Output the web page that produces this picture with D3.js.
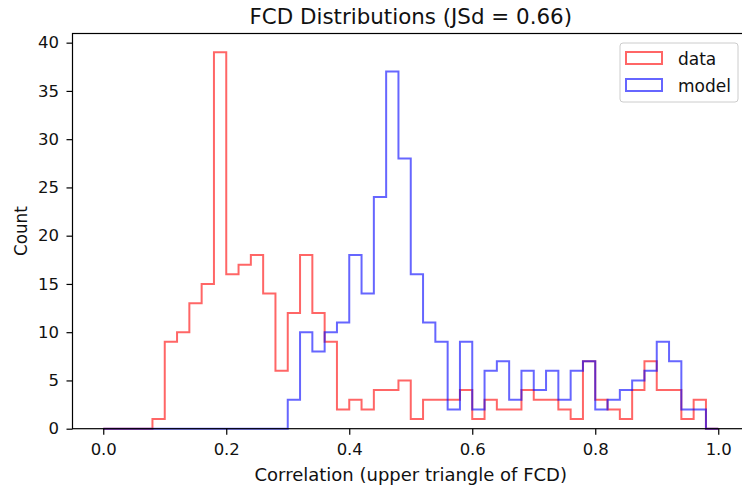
<!DOCTYPE html>
<html><head><meta charset="utf-8">
<script src="https://cdn.jsdelivr.net/npm/d3@7"></script>
<style>body{margin:0;background:#fff}svg{font-family:"DejaVu Sans",sans-serif}</style>
</head><body><svg id="c" width="742" height="490"></svg>
<script>
const binStart = 0.0, binWidth = 0.02;
const dataCounts = [0,0,0,0,1,9,10,13,15,39,16,17,18,14,6,12,18,12,9,2,3,2,4,4,5,1,3,3,3,4,1,3,2,2,4,3,3,2,1,7,3,2,1,4,7,4,4,1,3,0];
const modelCounts = [0,0,0,0,0,0,0,0,0,0,0,0,0,0,0,3,10,8,10,11,18,14,24,37,28,16,11,9,2,9,2,6,7,3,6,4,6,3,6,7,2,3,4,5,6,9,7,2,2,0];
const xTicks = [0.0,0.2,0.4,0.6,0.8,1.0];
const yTicks = [0,5,10,15,20,25,30,35,40];
const seriesNames = ["data","model"];
const seriesColors = ["red","blue"];

const svg = d3.select("#c");
const L = 72.5, R = 749, T = 33.5, B = 428.7;
const x = d3.scaleLinear().domain([-0.05,1.05]).range([L,R]);
const y = d3.scaleLinear().domain([0,40.95]).range([B,T]);

function stepPath(counts){
  const pts = [[binStart,0]];
  counts.forEach((c,i)=>{ const a=binStart+i*binWidth; pts.push([a,c]); pts.push([a+binWidth,c]); });
  pts.push([binStart+counts.length*binWidth,0]);
  return d3.line().x(d=>x(d[0])).y(d=>y(d[1]))(pts);
}
[dataCounts, modelCounts].forEach((cs,k)=>{
  svg.append("path").attr("d",stepPath(cs)).attr("fill","none")
    .attr("stroke",seriesColors[k]).attr("stroke-opacity",0.6).attr("stroke-width",2)
    .attr("stroke-linejoin","miter");
});

// spines
svg.append("rect").attr("x",L).attr("y",T).attr("width",R-L).attr("height",B-T)
  .attr("fill","none").attr("stroke","#000").attr("stroke-width",1.2);

const xa = svg.append("g").attr("transform",`translate(0,${B})`)
  .call(d3.axisBottom(x).tickValues(xTicks).tickFormat(d3.format(".1f")).tickSize(6).tickPadding(8.4));
const ya = svg.append("g").attr("transform",`translate(${L},0)`)
  .call(d3.axisLeft(y).tickValues(yTicks).tickFormat(d3.format("d")).tickSize(6).tickPadding(7.5));
[xa,ya].forEach(a=>{a.select(".domain").remove();a.selectAll("text").attr("font-size",16.5).attr("fill","#111").attr("font-family","DejaVu Sans");a.selectAll("line").attr("stroke","#000").attr("stroke-width",1.2);});

svg.append("text").attr("x",(L+R)/2).attr("y",24).attr("text-anchor","middle").attr("font-size",21.4).attr("fill","#111").text("FCD Distributions (JSd = 0.66)");
svg.append("text").attr("x",(L+R)/2).attr("y",481).attr("text-anchor","middle").attr("font-size",18).attr("fill","#111").text("Correlation (upper triangle of FCD)");
svg.append("text").attr("transform","translate(26.5,"+((T+B)/2)+") rotate(-90)").attr("text-anchor","middle").attr("font-size",16.8).attr("fill","#111").text("Count");

// legend
const lg = svg.append("g");
lg.append("rect").attr("x",620).attr("y",43).attr("width",118).attr("height",59).attr("rx",3)
  .attr("fill","#fff").attr("fill-opacity",0.8).attr("stroke","#ccc").attr("stroke-width",1);
seriesNames.forEach((n,k)=>{
  const yy = 52 + k*27;
  lg.append("rect").attr("x",626).attr("y",yy).attr("width",36).attr("height",12)
    .attr("fill","none").attr("stroke",seriesColors[k]).attr("stroke-opacity",0.6).attr("stroke-width",2);
  lg.append("text").attr("x",678).attr("y",yy+12.5).attr("font-size",17).attr("fill","#111").text(n);
});
</script></body></html>
